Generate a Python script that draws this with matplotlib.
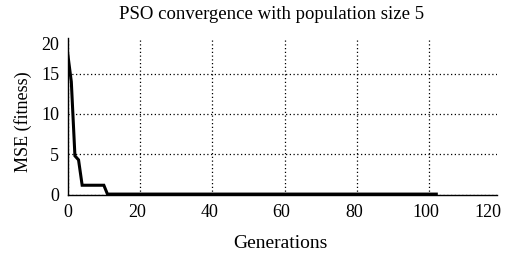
import matplotlib
matplotlib.use("Agg")
import matplotlib.pyplot as plt
from matplotlib.transforms import ScaledTranslation

generations = [0, 1, 2, 3, 4, 10, 11, 102]
mse = [17.5, 14.0, 4.8, 4.3, 1.15, 1.15, 0.05, 0.05]
xticks = [0, 20, 40, 60, 80, 100]
xtick_labels = ['0', '20', '40', '60', '80', '100', '120']
yticks = [0, 5, 10, 15]
ytick_labels = ['0', '5', '10', '15', '20']
x_max = 118.8
y_max = 19.4

plt.rcParams['font.family'] = ['Liberation Serif', 'DejaVu Serif']
plt.rcParams['font.size'] = 13

fig = plt.figure(figsize=(5.12, 2.6), dpi=100)
ax = fig.add_axes([67.7/512, 1-194.5/260, (497-67.7)/512, (194.5-38.3)/260])
ax.plot(generations, mse, color='black', linewidth=2.2, solid_joinstyle='miter')
ax.set_xlim(0, x_max)
ax.set_ylim(0, y_max)
ax.set_xticks(xticks + [x_max], labels=xtick_labels)
ax.set_yticks(yticks + [y_max], labels=ytick_labels)
ax.grid(True, linestyle=(0, (1, 2)), color='black', linewidth=0.9)
for gl in ax.xaxis.get_gridlines()[-1:] + ax.yaxis.get_gridlines()[-1:]:
    gl.set_visible(False)
ax.spines['top'].set_visible(False)
ax.spines['right'].set_visible(False)
ax.spines['left'].set_linewidth(1.0)
ax.spines['bottom'].set_linewidth(1.0)
ax.tick_params(length=0)
ax.tick_params(axis='x', pad=7)
ax.tick_params(axis='y', pad=6)
shift = ScaledTranslation(-3/100, 0, fig.dpi_scale_trans)
for lbl in ax.get_xticklabels()[1:]:
    lbl.set_transform(lbl.get_transform() + shift)
last = ax.get_xticklabels()[-1]
last.set_transform(last.get_transform() + ScaledTranslation(-6/100, 0, fig.dpi_scale_trans))
lasty = ax.get_yticklabels()[-1]
lasty.set_transform(lasty.get_transform() + ScaledTranslation(0, -5/100, fig.dpi_scale_trans))
ax.set_title('PSO convergence with population size 5', fontsize=13.5, pad=14, x=0.476)
ax.set_xlabel('Generations', labelpad=10, fontsize=14)
ax.xaxis.label.set_x(0.4957)
ax.set_ylabel('MSE (fitness)', labelpad=7)
ax.yaxis.label.set_y(0.467)
fig.savefig('out.png', dpi=100)
